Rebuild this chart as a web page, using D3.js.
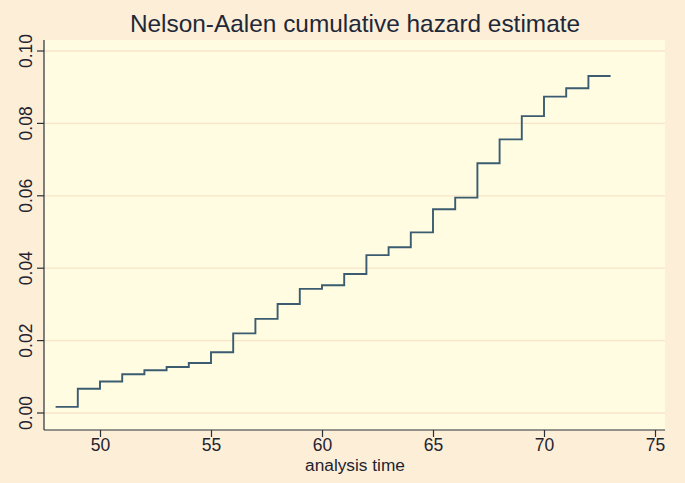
<!DOCTYPE html>
<html>
<head>
<meta charset="utf-8">
<script src="https://cdn.jsdelivr.net/npm/d3@7"></script>
<style>
  body { margin: 0; background: #fdeed8; }
  svg { display: block; font-family: "Liberation Sans", Arial, sans-serif; }
</style>
</head>
<body>
<svg id="chart" width="685" height="483"></svg>
<script>
// step times (analysis time) and cumulative hazard at each step
const times = [48, 49, 50, 51, 52, 53, 54, 55, 56, 57, 58, 59, 60, 61, 62, 63, 64, 65, 66, 67, 68, 69, 70, 71, 72, 73];
const hazard = [0.0017, 0.0067, 0.0087, 0.0107, 0.0118, 0.0127, 0.0138, 0.0168, 0.0220, 0.0260, 0.0301, 0.0343, 0.0353, 0.0384, 0.0436, 0.0458, 0.0499, 0.0563, 0.0595, 0.0690, 0.0756, 0.0820, 0.0874, 0.0897, 0.0931, 0.0931];
const xTicks = [50, 55, 60, 65, 70, 75];
const yTicks = [0, 0.02, 0.04, 0.06, 0.08, 0.10];

const svg = d3.select("#chart");
const plot = { left: 44, right: 665, top: 40, bottom: 430 };

const x = d3.scaleLinear().domain([50, 75]).range([100, 655]);
const y = d3.scaleLinear().domain([0, 0.1]).range([413, 51]);

// background
svg.append("rect").attr("width", 685).attr("height", 483).attr("fill", "#fdeed8");
svg.append("rect")
  .attr("x", plot.left).attr("y", plot.top)
  .attr("width", plot.right - plot.left).attr("height", plot.bottom - plot.top)
  .attr("fill", "#fffce2");

// gridlines
svg.append("g")
  .selectAll("line")
  .data(yTicks)
  .join("line")
  .attr("x1", plot.left).attr("x2", plot.right)
  .attr("y1", d => y(d)).attr("y2", d => y(d))
  .attr("stroke", "#f8e4c8")
  .attr("stroke-width", 1.3);

// step line
const pts = times.map((t, i) => [t, hazard[i]]);
const line = d3.line()
  .x(d => x(d[0]))
  .y(d => y(d[1]))
  .curve(d3.curveStepAfter);
svg.append("path")
  .datum(pts)
  .attr("d", line)
  .attr("fill", "none")
  .attr("stroke", "#3b5c70")
  .attr("stroke-width", 1.9);

// axes
const xAxis = d3.axisBottom(x).tickValues(xTicks).tickSize(7).tickPadding(2).tickFormat(d3.format("d"));
const gx = svg.append("g").attr("transform", `translate(0,${plot.bottom})`).call(xAxis);
gx.select(".domain").attr("d", `M${plot.left},0H${plot.right}`);

const yAxis = d3.axisLeft(y).tickValues(yTicks).tickSize(7).tickFormat(d3.format(".2f"));
const gy = svg.append("g").attr("transform", `translate(${plot.left},0)`).call(yAxis);
gy.select(".domain").attr("d", `M0,${plot.top}V${plot.bottom}`);

[gx, gy].forEach(g => {
  g.selectAll(".domain, .tick line").attr("stroke", "#2a2f36").attr("stroke-width", 1.2);
  g.selectAll("text").attr("fill", "#1f2430").attr("font-size", 17.5).attr("font-family", "Liberation Sans, Arial, sans-serif");
});

gy.selectAll(".tick").attr("transform", null);
gy.selectAll(".tick line").attr("y1", d => y(d)).attr("y2", d => y(d));
gy.selectAll(".tick text")
  .attr("text-anchor", "middle")
  .attr("transform", "rotate(-90)")
  .attr("dy", 0)
  .attr("y", -12)
  .attr("x", d => -y(d));

// titles
svg.append("text")
  .attr("x", 355).attr("y", 32)
  .attr("text-anchor", "middle")
  .attr("font-size", 24.4)
  .attr("fill", "#1e2838")
  .text("Nelson-Aalen cumulative hazard estimate");

svg.append("text")
  .attr("x", 355).attr("y", 471)
  .attr("text-anchor", "middle")
  .attr("font-size", 17.3)
  .attr("fill", "#1f2430")
  .text("analysis time");
</script>
</body>
</html>
